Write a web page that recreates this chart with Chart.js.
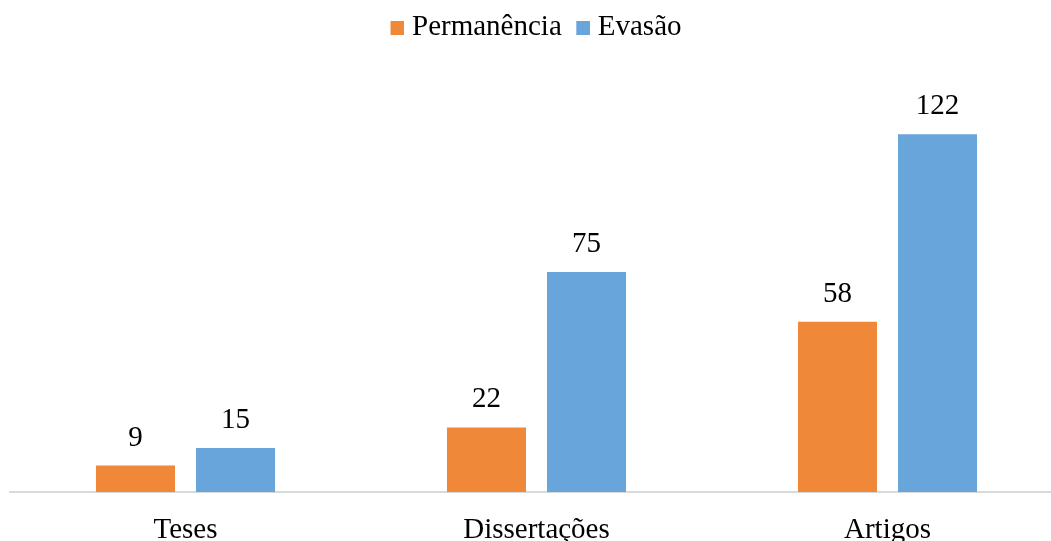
<!DOCTYPE html>
<html>
<head>
<meta charset="utf-8">
<script src="https://cdn.jsdelivr.net/npm/chart.js@4"></script>
<style>
  html, body { margin: 0; padding: 0; background: #fff; overflow: hidden; }
  #wrap { width: 1063px; height: 541px; }
</style>
</head>
<body>
<div id="wrap"><canvas id="chart" width="1063" height="541"></canvas></div>
<script>
// Data
const categories = ['Teses', 'Dissertações', 'Artigos'];
const permanencia = [9, 22, 58];
const evasao = [15, 75, 122];

const colors = ['#EF8838', '#67A5DB'];
const serif = '"Liberation Serif", "Times New Roman", serif';

// small square marker for the legend, sitting close to its text
function legendSquare(color) {
    const c = document.createElement('canvas');
    c.width = 30;
    c.height = 14;
    const g = c.getContext('2d');
    g.fillStyle = color;
    g.fillRect(16, 0, 14, 14);
    return c;
}
const markers = colors.map(legendSquare);

// Draw the value above each bar
const valueLabels = {
    id: 'valueLabels',
    afterDatasetsDraw(chart) {
        const ctx = chart.ctx;
        ctx.save();
        ctx.font = '29px ' + serif;
        ctx.fillStyle = '#000';
        ctx.textAlign = 'center';
        ctx.textBaseline = 'alphabetic';
        chart.data.datasets.forEach(function(ds, i) {
            chart.getDatasetMeta(i).data.forEach(function(bar, j) {
                ctx.fillText(ds.data[j], bar.x, bar.y - 20);
            });
        });
        ctx.restore();
    }
};

// nudge the legend a little to the left
const legendShift = {
    id: 'legendShift',
    afterLayout(chart) {
        chart.legend.left -= 5;
        chart.legend.right -= 5;
    }
};

var ctx = document.getElementById('chart').getContext('2d');
var chart = new Chart(ctx, {
    type: 'bar',
    data: {
        labels: categories,
        datasets: [{
            label: 'Permanência',
            data: permanencia,
            backgroundColor: colors[0]
        }, {
            label: 'Evasão',
            data: evasao,
            backgroundColor: colors[1]
        }]
    },
    options: {
        responsive: false,
        animation: false,
        devicePixelRatio: 1,
        categoryPercentage: 0.57,
        barPercentage: 0.79,
        layout: { padding: { left: 10, right: 0, top: 7.5, bottom: 0 } },
        plugins: {
            legend: {
                position: 'top',
                labels: {
                    font: { family: serif, size: 29 },
                    color: '#000',
                    usePointStyle: true,
                    pointStyleWidth: 16,
                    boxHeight: 14,
                    padding: 5.5,
                    generateLabels(chart) {
                        const items = Chart.defaults.plugins.legend.labels.generateLabels(chart);
                        items.forEach(function(item, i) { item.pointStyle = markers[i]; });
                        return items;
                    }
                }
            },
            tooltip: { enabled: false }
        },
        scales: {
            x: {
                grid: { display: false },
                border: { display: true, color: '#D9D9D9', width: 2 },
                ticks: {
                    font: { family: serif, size: 29 },
                    color: '#000',
                    padding: 13
                },
                afterFit(scale) { scale.height = 49; }
            },
            y: {
                display: false,
                min: 0,
                max: 150
            }
        }
    },
    plugins: [valueLabels, legendShift]
});
</script>
</body>
</html>
